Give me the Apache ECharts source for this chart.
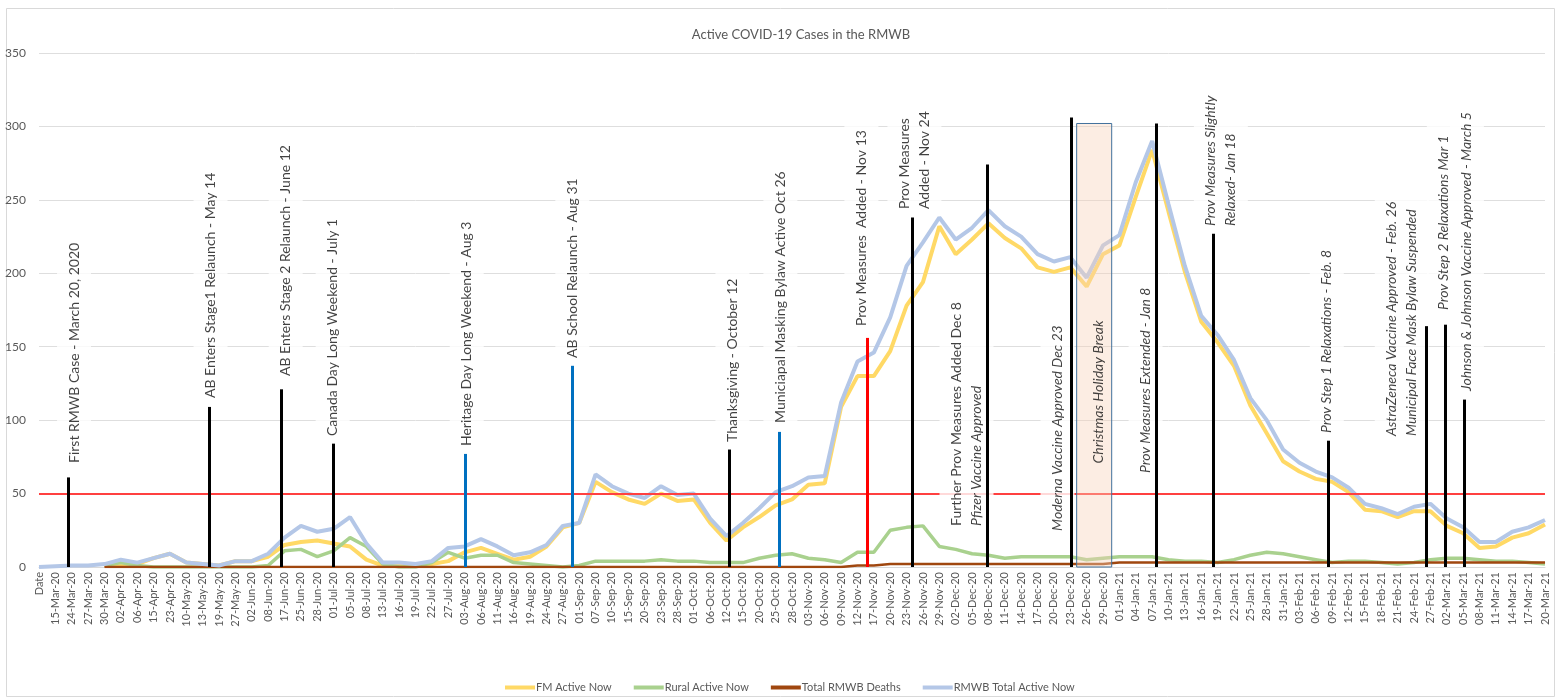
<!DOCTYPE html>
<html><head><meta charset="utf-8">
<script src="https://cdn.jsdelivr.net/npm/echarts@6/dist/echarts.min.js"></script>
<style>html,body{margin:0;padding:0;background:#fff}#c{width:1557px;height:698px}</style>
</head><body><div id="c"></div>
<script>
// ---------- DATA ----------
const categories = ['Date','15-Mar-20','24-Mar-20','27-Mar-20','30-Mar-20','02-Apr-20','06-Apr-20','15-Apr-20','23-Apr-20','10-May-20','13-May-20','19-May-20','27-May-20','02-Jun-20','08-Jun-20','17-Jun-20','25-Jun-20','28-Jun-20','01-Jul-20','05-Jul-20','08-Jul-20','13-Jul-20','16-Jul-20','19-Jul-20','22-Jul-20','27-Jul-20','03-Aug-20','06-Aug-20','11-Aug-20','16-Aug-20','19-Aug-20','24-Aug-20','27-Aug-20','01-Sep-20','07-Sep-20','10-Sep-20','15-Sep-20','20-Sep-20','23-Sep-20','28-Sep-20','01-Oct-20','06-Oct-20','12-Oct-20','15-Oct-20','20-Oct-20','25-Oct-20','28-Oct-20','03-Nov-20','06-Nov-20','09-Nov-20','12-Nov-20','17-Nov-20','20-Nov-20','23-Nov-20','26-Nov-20','29-Nov-20','02-Dec-20','05-Dec-20','08-Dec-20','11-Dec-20','14-Dec-20','17-Dec-20','20-Dec-20','23-Dec-20','26-Dec-20','29-Dec-20','01-Jan-21','04-Jan-21','07-Jan-21','10-Jan-21','13-Jan-21','16-Jan-21','19-Jan-21','22-Jan-21','25-Jan-21','28-Jan-21','31-Jan-21','03-Feb-21','06-Feb-21','09-Feb-21','12-Feb-21','15-Feb-21','18-Feb-21','21-Feb-21','24-Feb-21','27-Feb-21','02-Mar-21','05-Mar-21','08-Mar-21','11-Mar-21','14-Mar-21','17-Mar-21','20-Mar-21'];

const fmActive = [null,null,null,null,1,2,2,6,9,3, 2,1,4,4,7,15,17,18,16,14, 5,1,2,2,2,4,10,13,9,5, 7,14,27,30,58,51,46,43,50,45, 46,30,18,27,34,42,46,56,57,109, 130,130,147,178,194,232,213,223,234,224, 217,204,201,204,191,213,219,252,284,242, 201,167,153,137,110,91,72,65,60,58, 51,39,38,34,38,38,28,23,13,14, 20,23,29];

const ruralActive = [null,null,null,null,1,3,1,0,0,0, 0,0,0,0,1,11,12,7,11,20, 14,2,0,0,3,10,6,8,8,3, 2,1,0,1,4,4,4,4,5,4, 4,3,3,3,6,8,9,6,5,3, 10,10,25,27,28,14,12,9,8,6, 7,7,7,7,5,6,7,7,7,5, 4,4,3,5,8,10,9,7,5,3, 4,4,3,2,3,5,6,6,5,4, 4,3,2];

const rmwbDeaths = [null,null,null,null,0,0,0,0,0,0, 0,0,0,0,0,0,0,0,0,0, 0,0,0,0,0,0,0,0,0,0, 0,0,0,0,0,0,0,0,0,0, 0,0,0,0,0,0,0,0,0,0, 1,1,2,2,2,2,2,2,2,2, 2,2,2,2,2,2,3,3,3,3, 3,3,3,3,3,3,3,3,3,3, 3,3,3,3,3,3,3,3,3,3, 3,3,3];

const totalActive = [0,0.5,1,1,2,5,3,6,9,3, 2,1,4,4,9,20,28,24,26,34, 16,3,3,2,4,13,14,19,14,8, 10,15,28,30,63,55,50,47,55,49, 50,33,21,30,40,51,55,61,62,112, 140,146,170,205,221,238,223,231,243,232, 225,213,208,211,197,219,226,262,290,247, 205,171,158,141,115,100,80,71,65,61, 54,43,40,36,41,43,33,27,17,17, 24,27,32];

const yTicks = {min: 0, max: 350, step: 50};
const thresholdValue = 50;

// annotated events: text, position on the category scale (fractional index), marker top value
const eventText = [
  'First RMWB Case - March 20, 2020',
  'AB Enters Stage1 Relaunch - May 14',
  'AB Enters Stage 2 Relaunch - June 12',
  'Canada Day Long Weekend - July 1',
  'Heritage Day Long Weekend - Aug 3',
  'AB School Relaunch - Aug 31',
  'Thanksgiving - October 12',
  'Municiapal Masking Bylaw Active Oct 26',
  'Prov Measures  Added - Nov 13',
  'Prov Measures\nAdded - Nov 24',
  'Further Prov Measures Added Dec 8\nPfizer Vaccine Approved',
  'Moderna Vaccine Approved Dec 23',
  'Prov Measures Extended - Jan 8',
  'Prov Measures Slightly\nRelaxed- Jan 18',
  'Prov Step 1 Relaxations - Feb. 8',
  'AstraZeneca Vaccine Approved - Feb. 26\nMunicipal Face Mask Bylaw Suspended',
  'Prov Step 2 Relaxations Mar 1',
  'Johnson & Johnson Vaccine Approved - March 5'
];
const eventPos = [1.77,10.39,14.79,17.97,26.04,32.58,42.18,45.23,50.61,53.36,57.95,63.08,68.28,71.76,78.73,84.72,85.88,87.04];
const eventTop = [61,109,121,84,77,137,80,92,156,238,274,306,302,227,86,164,165,114];
const holidayText = 'Christmas Holiday Break';
const holidaySpan = [63.39, 65.53];
const holidayTop = 302;

// ---------- LAYOUT / STYLE ----------
const labelAnchor = [[2.14,69.5],[10.48,113.7],[15.07,128.7],[17.94,87.8],[26.13,81],[32.58,141],[42.36,83.8],[45.29,96.7],[50.24,162.7],[53.48,242.4],[56.66,26.6],[62.22,23.2],[67.6,62.6],[72.2,230.8],[78.67,89.9],[83.25,87.8],[85.82,173.6],[87.23,118.5]];
const holidayLabelAt = [64.73, 119.2];
const lineColorCode = ['k','k','k','k','b','b','k','b','r','k','k','k','k','k','k','k','k','k'];
const colorMap = {k:'#000000', b:'#0070C0', r:'#FF0000'};
const italicEvents = new Set([11,12,13,14,15,16,17]);
const FONT = 'Lato, "Liberation Sans", sans-serif';

const chart = echarts.init(document.getElementById('c'), null, {renderer:'canvas'});

const labelItems = eventText.map((t, i) => {
  const base = {
    value: labelAnchor[i],
    label: {
      formatter: t,
      fontStyle: italicEvents.has(i) ? 'italic' : 'normal'
    }
  };
  if (i === 10) {
    const parts = t.split('\n');
    base.label.formatter = '{n|' + parts[0] + '}\n{it|' + parts[1] + '}';
  }
  return base;
});
labelItems.push({
  value: holidayLabelAt,
  label: {
    formatter: holidayText, fontStyle: 'italic', align: 'center',
    backgroundColor: 'transparent', padding: 0
  }
});

const lineMarks = eventPos.map((x, i) => [
  {coord: [x, 0], lineStyle: {color: colorMap[lineColorCode[i]], width: 3, type: 'solid'}},
  {coord: [x, eventTop[i]]}
]);

const option = {
  animation: false,
  backgroundColor: '#ffffff',
  title: {
    text: 'Active COVID-19 Cases in the RMWB',
    left: 796, top: 23, textAlign: 'center',
    textStyle: {fontFamily: FONT, fontSize: 13, fontWeight: 'normal', color: '#595959'}
  },
  legend: {
    bottom: 0, left: 500,
    data: ['FM Active Now','Rural Active Now','Total RMWB Deaths','RMWB Total Active Now'],
    icon: 'rect', itemWidth: 30, itemHeight: 4, itemGap: 22,
    textStyle: {fontFamily: FONT, fontSize: 11, color: '#595959', padding: [0,0,0,-4]}
  },
  grid: {left: 39, right: 12, top: 53, bottom: 131, containLabel: false},
  xAxis: [
    {
      type: 'category', data: categories, boundaryGap: false,
      axisLine: {show: true, lineStyle: {color: '#d9d9d9'}},
      axisTick: {show: false},
      axisLabel: {interval: 0, rotate: 90, margin: 5, fontFamily: FONT, fontSize: 11, color: '#595959'},
      splitLine: {show: false}
    },
    {type: 'value', min: 0, max: categories.length - 1, show: false}
  ],
  yAxis: {
    type: 'value', min: yTicks.min, max: yTicks.max, interval: yTicks.step,
    axisLine: {show: false}, axisTick: {show: false},
    axisLabel: {fontFamily: FONT, fontSize: 12, color: '#595959', margin: 13},
    splitLine: {show: true, lineStyle: {color: '#dedede', width: 1}}
  },
  series: [
    {name: 'FM Active Now', type: 'line', data: fmActive, showSymbol: false, symbol: 'none',
     lineStyle: {color: '#FFD966', width: 4}, itemStyle: {color: '#FFD966'}, z: 2},
    {name: 'Rural Active Now', type: 'line', data: ruralActive, showSymbol: false, symbol: 'none',
     lineStyle: {color: '#A9D18E', width: 3.5}, itemStyle: {color: '#A9D18E'}, z: 2},
    {name: 'Total RMWB Deaths', type: 'line', data: rmwbDeaths, showSymbol: false, symbol: 'none',
     lineStyle: {color: '#A0470F', width: 2.5}, itemStyle: {color: '#A0470F'}, z: 2},
    {name: 'RMWB Total Active Now', type: 'line', data: totalActive, showSymbol: false, symbol: 'none',
     lineStyle: {color: '#B4C7E7', width: 4}, itemStyle: {color: '#B4C7E7'}, z: 2},
    {name: 'threshold', type: 'line', data: [], silent: true,
     markLine: {z: 2.5, silent: true, symbol: ['none','none'], label: {show: false},
       lineStyle: {color: '#FF4040', width: 2, type: 'solid'},
       data: [{yAxis: thresholdValue}]}},
    {name: 'holiday', type: 'scatter', xAxisIndex: 1, data: [], silent: true,
     markArea: {z: 2.8, silent: true,
       itemStyle: {color: 'rgba(248,210,185,0.4)', borderColor: '#41719C', borderWidth: 1},
       label: {show: false},
       data: [[{coord: [holidaySpan[0], 0]}, {coord: [holidaySpan[1], holidayTop]}]]}},
    {name: 'eventLabels', type: 'scatter', xAxisIndex: 1, symbolSize: 0, silent: true, z: 3,
     itemStyle: {color: 'transparent'},
     label: {show: true, position: 'inside', rotate: 90, align: 'left', verticalAlign: 'middle',
       fontFamily: FONT, fontSize: 14, lineHeight: 20, color: '#111111',
       backgroundColor: '#ffffff', padding: [7, 10, 7, 2],
       rich: {
         n: {fontFamily: FONT, fontSize: 14, lineHeight: 20, color: '#111111'},
         it: {fontFamily: FONT, fontSize: 14, lineHeight: 20, color: '#111111', fontStyle: 'italic'}
       }},
     data: labelItems},
    {name: 'eventLines', type: 'scatter', xAxisIndex: 1, data: [], silent: true,
     markLine: {z: 6, silent: true, symbol: ['none','none'], label: {show: false},
       data: lineMarks}}
  ],
  graphic: [{
    type: 'rect', left: 4, top: 6, silent: true, z: -1,
    shape: {width: 1548, height: 688},
    style: {fill: 'none', stroke: '#d9d9d9', lineWidth: 1}
  }]
};
chart.setOption(option);
</script></body></html>
